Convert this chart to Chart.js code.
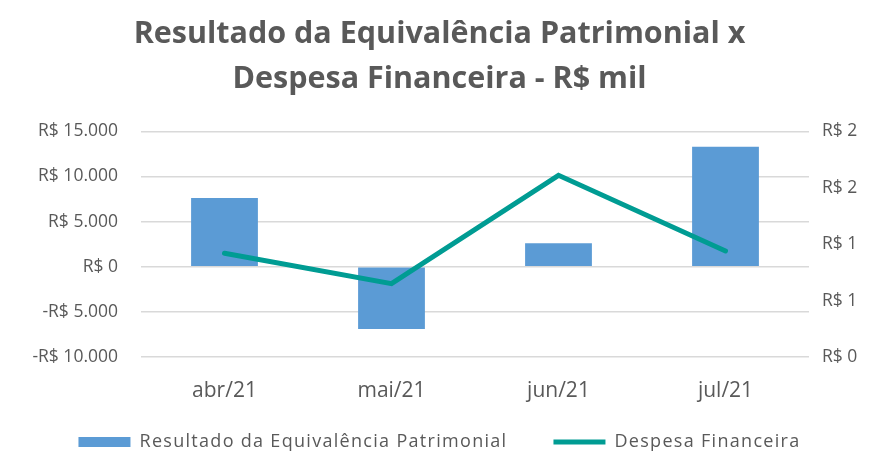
<!DOCTYPE html>
<html>
<head>
<meta charset="utf-8">
<script src="https://cdn.jsdelivr.net/npm/chart.js@4"></script>
<style>
  html, body { margin: 0; padding: 0; background: #fff; }
  #wrap { width: 879px; height: 455px; }
</style>
</head>
<body>
<div id="wrap"><canvas id="chart"></canvas></div>
<script>
// dados
const meses = ['abr/21', 'mai/21', 'jun/21', 'jul/21'];
const equivalencia = [7600, -6900, 2600, 13300];
const despesaFin = [0.92, 0.65, 1.61, 0.94];
const eixoEsq = [-10000, 15000, 5000];
const eixoDir = [0, 2, 0.5];

const cinza = '#595959';
const fonte = 'Open Sans';

function fmtReal(v) {
    const s = Math.abs(v).toFixed(0).replace(/\B(?=(\d{3})+(?!\d))/g, '.');
    return (v < 0 ? '-' : '') + 'R$ ' + s;
}

// a legenda usa padding grande para o espaço entre itens:
// a caixa fica baixa no layout, mas desenha a partir de um topo mais alto
const ajusteLegenda = {
    id: 'ajusteLegenda',
    afterInit(chart) {
        const lg = chart.legend;
        const fitOrig = lg.fit;
        const drawOrig = lg.draw;
        lg.fit = function () {
            this.ctx.letterSpacing = '1.3px';
            fitOrig.call(this);
            this.ctx.letterSpacing = '0px';
            this.height = 50;
        };
        lg.draw = function () {
            const c = this.ctx;
            const topo = this.top;
            this.top = this.bottom - 68;
            c.save();
            c.letterSpacing = '1.3px';
            drawOrig.call(this);
            c.restore();
            this.top = topo;
        };
    }
};

const ctx = document.getElementById('chart').getContext('2d');
new Chart(ctx, {
    data: {
        labels: meses,
        datasets: [{
            type: 'line',
            label: 'Despesa Financeira',
            data: despesaFin,
            yAxisID: 'y2',
            borderColor: '#009C93',
            backgroundColor: '#009C93',
            borderWidth: 5,
            borderCapStyle: 'round',
            pointRadius: 0,
            tension: 0,
            order: 0
        }, {
            type: 'bar',
            label: 'Resultado da Equivalência Patrimonial',
            data: equivalencia,
            yAxisID: 'y',
            backgroundColor: '#5B9BD5',
            barPercentage: 0.8,
            categoryPercentage: 0.5,
            order: 1
        }]
    },
    plugins: [ajusteLegenda],
    options: {
        responsive: true,
        maintainAspectRatio: false,
        animation: false,
        layout: { padding: 0 },
        plugins: {
            title: {
                display: true,
                text: ['Resultado da Equivalência Patrimonial x', 'Despesa Financeira - R$ mil'],
                color: cinza,
                font: { family: 'Open Sans', size: 30.5, weight: 'bold', lineHeight: 1.48 },
                padding: { top: 12, bottom: 29 }
            },
            legend: {
                position: 'bottom',
                reverse: true,
                labels: {
                    color: cinza,
                    font: { family: fonte, size: 18 },
                    usePointStyle: true,
                    pointStyleWidth: 52,
                    boxHeight: 10,
                    padding: 46,
                    generateLabels: chart => {
                        const itens = Chart.defaults.plugins.legend.labels.generateLabels(chart);
                        itens.forEach(it => {
                            const ds = chart.data.datasets[it.datasetIndex];
                            if (ds.type === 'line') {
                                it.pointStyle = 'line';
                                it.lineWidth = 5;
                                it.strokeStyle = ds.borderColor;
                            } else {
                                it.pointStyle = 'rect';
                                it.lineWidth = 0;
                            }
                        });
                        return itens;
                    }
                }
            },
            tooltip: { enabled: false }
        },
        scales: {
            x: {
                grid: { display: false, drawTicks: false },
                border: { display: false },
                ticks: { color: cinza, font: { family: fonte, size: 21 }, padding: 21 },
                afterFit: s => { s.height = 48; }
            },
            y: {
                position: 'left',
                min: eixoEsq[0], max: eixoEsq[1],
                grid: { color: '#d9d9d9', lineWidth: 1.5, drawTicks: false },
                border: { display: false },
                ticks: {
                    stepSize: eixoEsq[2],
                    color: cinza,
                    font: { family: fonte, size: 17.5 },
                    padding: 23,
                    callback: v => fmtReal(v)
                },
                afterFit: s => { s.width = 141; }
            },
            y2: {
                position: 'right',
                min: eixoDir[0], max: eixoDir[1],
                grid: { display: false, drawTicks: false },
                border: { display: false },
                ticks: {
                    stepSize: eixoDir[2],
                    color: cinza,
                    font: { family: fonte, size: 17.5 },
                    padding: 13,
                    callback: v => 'R$ ' + Math.round(v)
                },
                afterFit: s => { s.width = 70; }
            }
        }
    }
});
</script>
</body>
</html>
